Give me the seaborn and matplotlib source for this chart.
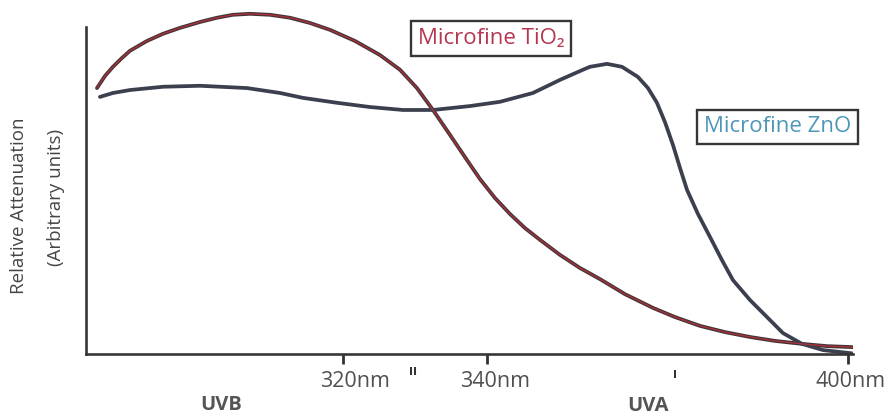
import numpy as np
import pandas as pd
import matplotlib
matplotlib.use("Agg")
import matplotlib.pyplot as plt
import matplotlib.transforms as mtransforms
import seaborn as sns

# ---------------- data ----------------
# x positions in nm-equivalent units of the drawn (broken) axis
tio2_x = [281.03, 282.30, 283.56, 284.99, 286.26, 288.95, 291.49, 294.18, 297.35,
          300.04, 302.57, 305.27, 308.44, 311.60, 314.77, 317.94, 321.90, 325.86,
          329.03, 331.72, 334.26, 336.95, 339.64, 341.70, 344.08, 346.46, 348.83,
          351.21, 354.38, 357.54, 360.71, 364.67, 369.11, 372.59, 376.55, 380.51,
          384.48, 388.44, 392.71, 396.67, 400.79]
tio2_y = [81.3, 85.0, 87.8, 90.5, 92.7, 95.7, 97.9, 99.7, 101.5,
          102.8, 103.7, 104.0, 103.7, 102.8, 101.2, 99.1, 95.7, 91.4,
          86.9, 81.3, 74.6, 67.0, 59.3, 53.5, 47.7, 42.8, 38.5,
          34.9, 30.3, 26.3, 22.9, 18.3, 14.1, 11.3, 8.6, 6.7,
          5.2, 4.0, 3.1, 2.4, 2.1]

zno_x = [281.50, 283.56, 286.26, 291.49, 297.35, 304.79, 310.02, 313.66, 319.05,
         324.28, 329.51, 334.26, 340.12, 344.87, 350.10, 354.38, 358.02, 359.13,
         361.82, 364.20, 366.73, 368.32, 369.74, 371.01, 372.28, 373.39, 374.50,
         376.24, 378.14, 380.04, 381.78, 384.48, 387.17, 389.70, 392.71, 396.04,
         400.63]
zno_y = [78.6, 79.8, 80.7, 81.7, 82.0, 81.3, 79.8, 78.3, 76.8,
         75.5, 74.6, 74.6, 75.8, 77.1, 79.8, 83.8, 86.9, 87.8,
         88.7, 87.8, 84.7, 81.3, 76.8, 70.9, 63.9, 56.9, 50.2,
         42.8, 35.8, 28.7, 22.6, 16.5, 11.3, 6.4, 3.1, 1.2,
         0.2]

series_names = ["Microfine TiO\u2082", "Microfine ZnO"]
tick_pos = [320, 342.81, 400]
tick_labels = ["320nm", "340nm", "400nm"]
region_labels = ["UVB", "UVA"]
y_label_1 = "Relative Attenuation"
y_label_2 = "(Arbitrary units)"

df = pd.concat([
    pd.DataFrame({"x": tio2_x, "y": tio2_y, "series": series_names[0]}),
    pd.DataFrame({"x": zno_x, "y": zno_y, "series": series_names[1]}),
], ignore_index=True)

# ---------------- style ----------------
sns.set_theme(style="white")
plt.rcParams["font.family"] = ["Open Sans", "DejaVu Sans"]
plt.rcParams["lines.solid_joinstyle"] = "round"
plt.rcParams["lines.solid_capstyle"] = "round"

W, H = 893, 417
fig = plt.figure(figsize=(W / 100, H / 100), dpi=100)
fig.patch.set_facecolor("white")

def fx(px):
    return px / W

def fy(py):
    return 1 - py / H

ax = fig.add_axes([fx(86), fy(354), (853 - 86) / W, (354 - 4) / H])
ax.set_facecolor("white")

palette = {series_names[0]: "#403538", series_names[1]: "#3c3f4e"}
sns.lineplot(data=df, x="x", y="y", hue="series", palette=palette,
             estimator=None, sort=False, lw=2.7, legend=False, ax=ax)
# reddish overlay on the TiO2 trace
sns.lineplot(data=df[df["series"] == series_names[0]], x="x", y="y",
             color="#c42f3a", estimator=None, sort=False, lw=1.0, alpha=0.8,
             legend=False, ax=ax)

ax.set_xlim(279.29, 400.8)
ax.set_ylim(0, 107)

for s in ["top", "right"]:
    ax.spines[s].set_visible(False)
for s in ["left", "bottom"]:
    ax.spines[s].set_color("#363636")
    ax.spines[s].set_linewidth(1.9)
ax.spines["left"].set_bounds(0, 100)

ax.set_yticks([])
ax.set_xticks(tick_pos)
ax.set_xticklabels(tick_labels, fontsize=15.5, color="#505050")
ax.tick_params(axis="x", direction="out", length=7.5, width=2.0,
               color="#333333", pad=5, bottom=True)
ax.set_xlabel("")
ax.set_ylabel("")

# tick labels are drawn slightly to the right of their ticks in the reference
offsets_px = [12, 8, 3]
for lab, off in zip(ax.get_xticklabels(), offsets_px):
    lab.set_transform(lab.get_transform() +
                      mtransforms.ScaledTranslation(off / 100, 0, fig.dpi_scale_trans))

# small extra marks below the axis
ax.annotate("II", xy=(331.09, 0), xycoords=("data", "axes fraction"),
            xytext=(0, -13), textcoords="offset points", ha="center", va="center",
            fontsize=8, fontweight="bold", color="#333333", family="DejaVu Sans")
ax.annotate("I", xy=(372.6, 0), xycoords=("data", "axes fraction"),
            xytext=(0, -15), textcoords="offset points", ha="center", va="center",
            fontsize=8, fontweight="bold", color="#333333", family="DejaVu Sans")

# region labels
fig.text(fx(221), fy(410), region_labels[0], ha="center", va="baseline",
         fontsize=14.5, fontweight="bold", color="#555555")
fig.text(fx(648), fy(411), region_labels[1], ha="center", va="baseline",
         fontsize=14.5, fontweight="bold", color="#555555")

# y-axis labels
fig.text(fx(19), fy(206), y_label_1, rotation=90, ha="center", va="center",
         fontsize=13.5, color="#454545")
fig.text(fx(56), fy(197), y_label_2, rotation=90, ha="center", va="center",
         fontsize=13.5, color="#454545")

# boxed series labels
fig.text(fx(491), fy(38.5), series_names[0], ha="center", va="center",
         fontsize=16, color="#b5364f",
         family=["Open Sans", "DejaVu Sans"],
         bbox=dict(boxstyle="square,pad=0.3", fc="white", ec="#363636", lw=1.7))
fig.text(fx(777.5), fy(127), series_names[1], ha="center", va="center",
         fontsize=16, color="#4d96b8",
         bbox=dict(boxstyle="square,pad=0.3", fc="white", ec="#363636", lw=1.7))

fig.savefig("out.png", dpi=100, facecolor="white")
